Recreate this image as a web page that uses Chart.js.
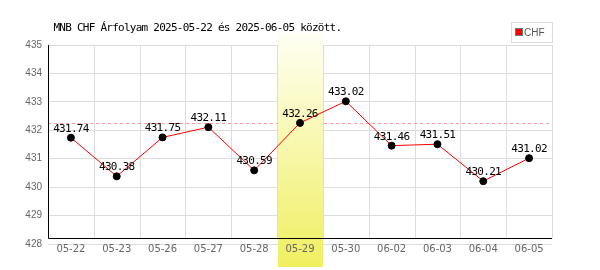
<!DOCTYPE html>
<html>
<head>
<meta charset="utf-8">
<script src="https://cdn.jsdelivr.net/npm/chart.js@4"></script>
<style>
  html, body { margin: 0; padding: 0; background: #fff; }
  #wrap { width: 600px; height: 270px; }
</style>
</head>
<body>
<div id="wrap"><canvas id="chf"></canvas></div>
<script>
// MNB CHF rates
const labels = ['05-22', '05-23', '05-26', '05-27', '05-28', '05-29', '05-30', '06-02', '06-03', '06-04', '06-05'];
const rates  = [431.74, 430.38, 431.75, 432.11, 430.59, 432.26, 433.02, 431.46, 431.51, 430.21, 431.02];
const yTicks = [428, 429, 430, 431, 432, 433, 434, 435];
const title = 'MNB CHF Árfolyam 2025-05-22 és 2025-06-05 között.';
const seriesName = 'CHF';
const markedDay = '05-29';

const monoFont = '"DejaVu Sans Mono", monospace';

// highlight column + dashed reference line, drawn under the line
const bandPlugin = {
  id: 'band',
  beforeDatasetsDraw(chart) {
    const { ctx, chartArea, scales: { x, y } } = chart;
    const idx = labels.indexOf(markedDay);
    const refY = y.getPixelForValue(rates[idx]);

    ctx.save();
    ctx.strokeStyle = '#ff9a9a';
    ctx.lineWidth = 1;
    ctx.setLineDash([3, 3]);
    ctx.beginPath();
    ctx.moveTo(chartArea.left, Math.round(refY) + 0.5);
    ctx.lineTo(chartArea.right, Math.round(refY) + 0.5);
    ctx.stroke();
    ctx.setLineDash([]);

    const half = (x.getPixelForValue(1) - x.getPixelForValue(0)) / 2;
    const cx = x.getPixelForValue(idx);
    const top = chartArea.top - 12, bottom = chart.height - 3;
    const g = ctx.createLinearGradient(0, top, 0, bottom);
    g.addColorStop(0, '#fffff4');
    g.addColorStop(1, '#f0ef60');
    ctx.fillStyle = g;
    ctx.fillRect(Math.round(cx - half) + 1, top, Math.round(2 * half) - 1, bottom - top);
    ctx.restore();
  },
  afterDatasetsDraw(chart) {
    const { ctx, chartArea, scales: { x, y } } = chart;
    const floor = Math.round(y.getPixelForValue(428.2)) + 0.5;
    ctx.save();
    ctx.strokeStyle = '#000';
    ctx.lineWidth = 1;
    ctx.beginPath();
    ctx.moveTo(chartArea.left + 0.5, chartArea.top);
    ctx.lineTo(chartArea.left + 0.5, floor);
    ctx.lineTo(chartArea.right, floor);
    ctx.stroke();

    // category labels go on top of the band
    ctx.font = '10px "DejaVu Sans", sans-serif';
    ctx.fillStyle = '#666';
    ctx.textAlign = 'center';
    ctx.textBaseline = 'alphabetic';
    labels.forEach((l, i) => ctx.fillText(l, x.getPixelForValue(i), chartArea.bottom + 8));
    ctx.restore();
  }
};

// vertical grid lines stop at the axis line
const vGridPlugin = {
  id: 'vgrid',
  beforeDatasetsDraw(chart) {
    const { ctx, chartArea, scales: { x, y } } = chart;
    const floor = Math.round(y.getPixelForValue(428.2));
    const half = (x.getPixelForValue(1) - x.getPixelForValue(0)) / 2;
    ctx.save();
    ctx.strokeStyle = '#dddddd';
    ctx.lineWidth = 1;
    for (let i = 1; i <= labels.length; i++) {
      const px = Math.round(x.getPixelForValue(i) - half) + 0.5;
      ctx.beginPath();
      ctx.moveTo(px, chartArea.top);
      ctx.lineTo(px, floor);
      ctx.stroke();
    }
    ctx.restore();
  }
};

const valueLabels = {
  id: 'valueLabels',
  afterDatasetsDraw(chart) {
    const { ctx } = chart;
    const meta = chart.getDatasetMeta(0);
    ctx.save();
    ctx.font = '11px ' + monoFont;
    ctx.letterSpacing = '-0.7px';
    ctx.fillStyle = '#000';
    ctx.textAlign = 'center';
    ctx.textBaseline = 'alphabetic';
    meta.data.forEach((pt, i) => {
      ctx.fillText(rates[i].toFixed(2), pt.x, pt.y - 6);
    });
    ctx.restore();
  }
};

const header = {
  id: 'header',
  afterDraw(chart) {
    const { ctx } = chart;
    ctx.save();
    ctx.font = '11px ' + monoFont;
    ctx.letterSpacing = '-0.75px';
    ctx.fillStyle = '#000';
    ctx.textBaseline = 'alphabetic';
    ctx.fillText(title, 53.5, 31);
    ctx.letterSpacing = '0px';

    // legend box
    ctx.fillStyle = '#fff';
    ctx.fillRect(511, 22, 41, 20);
    ctx.strokeStyle = '#dddddd';
    ctx.strokeRect(511.5, 22.5, 41, 20);
    ctx.fillStyle = '#ff0000';
    ctx.fillRect(516, 29, 6, 6);
    ctx.strokeStyle = '#777';
    ctx.strokeRect(515.5, 28.5, 7, 7);
    ctx.fillStyle = '#555';
    ctx.font = '10px "Liberation Sans", Arial, sans-serif';
    ctx.fillText(seriesName, 524, 36);
    ctx.restore();
  }
};

new Chart(document.getElementById('chf'), {
  type: 'line',
  data: {
    labels,
    datasets: [{
      label: seriesName,
      data: rates,
      borderColor: '#ff0000',
      borderWidth: 1,
      pointBackgroundColor: '#000',
      pointBorderColor: '#000',
      pointRadius: 3.5,
      pointBorderWidth: 1,
      tension: 0,
      fill: false,
    }],
  },
  options: {
    responsive: true,
    maintainAspectRatio: false,
    animation: false,
    layout: { padding: { top: 45, right: 48, left: 0, bottom: 0 } },
    plugins: {
      legend: { display: false },
      tooltip: { enabled: false },
      title: { display: false },
    },
    scales: {
      x: {
        offset: true,
        grid: { display: false },
        border: { display: false },
        afterFit(s) { s.height = 26; },
        ticks: { display: false },
      },
      y: {
        min: yTicks[0],
        max: yTicks[yTicks.length - 1],
        afterBuildTicks(s) { s.ticks = yTicks.map(v => ({ value: v })); },
        afterFit(s) { s.width = 48; },
        grid: { color: '#dddddd', drawTicks: false },
        border: { display: false },
        ticks: {
          color: '#666',
          padding: 6,
          font: { family: '"Liberation Sans", Arial, sans-serif', size: 10 },
        },
      },
    },
  },
  plugins: [vGridPlugin, bandPlugin, valueLabels, header],
});
</script>
</body>
</html>
